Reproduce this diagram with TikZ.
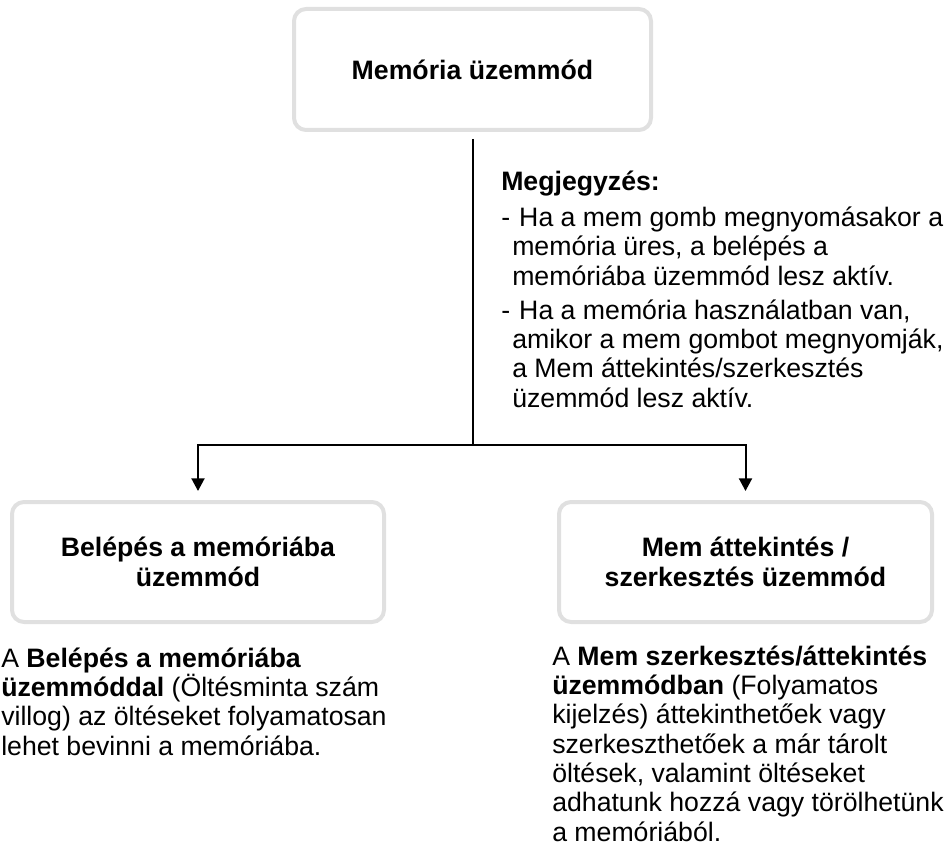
\documentclass[tikz,border=0pt]{standalone}
\usepackage{fontspec}
\setmainfont{Liberation Sans}
\usetikzlibrary{arrows.meta,positioning}
\definecolor{FlowInk}{HTML}{000000}
\definecolor{FlowEdge}{HTML}{E0E0E0}
\definecolor{FlowPaper}{HTML}{FFFFFF}
\newcommand{\notedash}{\makebox[13.5pt][l]{-}}
\newcommand{\noteindent}{\hspace*{8.25pt}}
\tikzset{
  every node/.style={font=\fontsize{20}{22}\selectfont, text=FlowInk},
  modebox/.style={draw=FlowEdge, line width=3pt, rounded corners=9pt, fill=FlowPaper, align=center, inner sep=0pt},
  link/.style={draw=FlowInk, line width=1.5pt},
  flow/.style={-{Triangle[length=9.5pt,width=9.75pt]}, draw=FlowInk, line width=1.5pt},
  desc/.style={align=left, inner sep=0pt, anchor=base west},
}
\begin{document}
\begin{tikzpicture}[x=0.75pt, y=-0.75pt]
  \useasboundingbox (0,0) rectangle (952,848);
  % Mode boxes
  \node[modebox, minimum width=267.75pt, minimum height=90.75pt] (mem) at (472.5,69.5)
    {\textbf{Memória üzemmód}};
  \node[modebox, minimum width=279pt, minimum height=90pt] (enter) at (198,562)
    {\textbf{Belépés a memóriába}\\ \textbf{üzemmód}};
  \node[modebox, minimum width=279.75pt, minimum height=90pt] (review) at (745.5,562)
    {\textbf{Mem áttekintés /}\\ \textbf{szerkesztés üzemmód}};
  % Split and arrows
  \coordinate (split) at (472.5,445);
  \draw[link, shorten <=5.25pt] (mem.south) -- (split);
  \draw[flow, shorten >=6.75pt] (split) -| (enter.north);
  \draw[flow, shorten >=6.75pt] (split) -| (review.north);
  % Note beside the stem (anchored at its last line)
  \node[desc] (note) at (501,407)
    {\textbf{Megjegyzés:}\\[5pt]
     \notedash Ha a mem gomb megnyomásakor a\\
     \noteindent memória üres, a belépés a\\
     \noteindent memóriába üzemmód lesz aktív.\\[3.5pt]
     \notedash Ha a memória használatban van,\\
     \noteindent amikor a mem gombot megnyomják,\\
     \noteindent a Mem áttekintés/szerkesztés\\
     \noteindent üzemmód lesz aktív.};
  % Descriptions under the boxes
  \node[desc] (enterdesc) at (1,755)
    {A \textbf{Belépés a memóriába}\\
     \textbf{üzemmóddal} (Öltésminta szám\\
     villog) az öltéseket folyamatosan\\
     lehet bevinni a memóriába.};
  \node[desc] (reviewdesc) at (552,841)
    {A \textbf{Mem szerkesztés/áttekintés}\\
     \textbf{üzemmódban} (Folyamatos\\
     kijelzés) áttekinthetőek vagy\\
     szerkeszthetőek a már tárolt\\
     öltések, valamint öltéseket\\
     adhatunk hozzá vagy törölhetünk\\
     a memóriából.};
\end{tikzpicture}
\end{document}
